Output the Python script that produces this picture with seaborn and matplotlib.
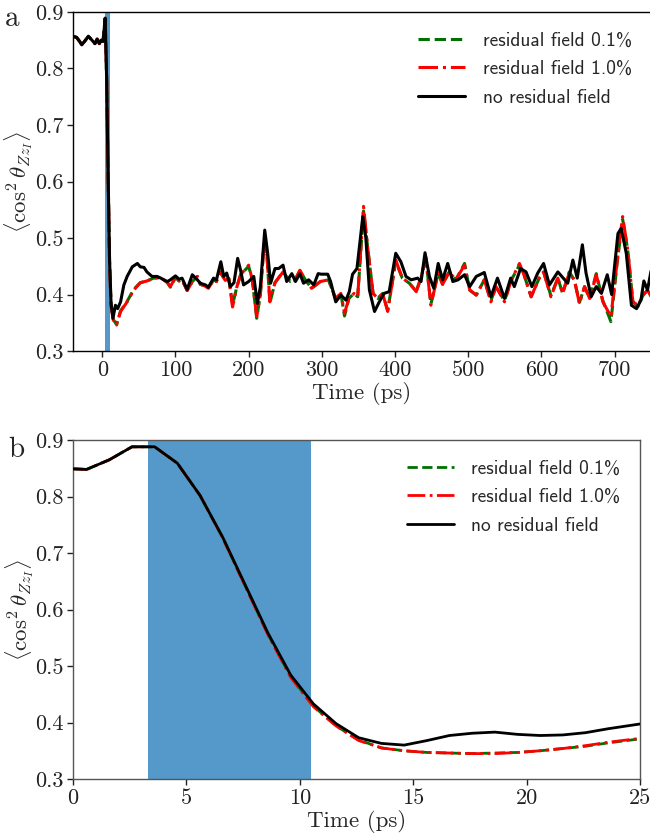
import numpy as np
import pandas as pd
import matplotlib
matplotlib.use("Agg")
import matplotlib.pyplot as plt
import seaborn as sns

# ---------------- data: panel a ----------------
t_a_black = [-40, -35, -31, -28, -23, -19, -14, -10, -7, -4, -1.5, 1, 4, 6, 8, 10, 12, 14.6,
             18, 21, 25, 29.5, 34, 41, 48, 52, 57, 61, 68, 75, 80, 84, 89, 93, 100, 105, 109,
             116, 123, 130, 134, 141, 145, 152, 156, 162, 166, 170, 175, 180, 185, 189, 193,
             200, 207, 212, 216, 222, 226, 230, 236, 241, 247, 252, 259, 264, 270, 275, 282,
             289, 295, 299, 308, 312, 319, 326, 333, 337.5, 342, 348, 356, 360, 365, 372,
             378.5, 385, 392, 401, 408, 415, 422, 431, 435.6, 441, 447, 453, 459, 465, 472,
             479, 486, 495, 502, 511, 522, 531, 540, 549.6, 558, 563, 571.5, 579, 587, 595,
             603, 611, 622.5, 636, 643, 649, 656, 661, 668, 675, 682, 690, 696, 704.6, 709,
             716, 723, 730, 736, 740, 745, 750]
v_a_black = [0.857, 0.855, 0.848, 0.842, 0.850, 0.857, 0.850, 0.844, 0.852, 0.844, 0.850, 0.848,
             0.889, 0.78, 0.61, 0.46, 0.385, 0.358,
             0.381, 0.375, 0.387, 0.417, 0.432, 0.449, 0.455, 0.449, 0.448, 0.440, 0.432, 0.432,
             0.429, 0.426, 0.423, 0.426, 0.433, 0.427, 0.429,
             0.409, 0.435, 0.426, 0.420, 0.417, 0.413, 0.429, 0.426, 0.458, 0.432, 0.438, 0.414,
             0.421, 0.464, 0.443, 0.417,
             0.423, 0.432, 0.384, 0.414, 0.514, 0.473, 0.420, 0.446, 0.446, 0.452, 0.423, 0.437,
             0.423, 0.437, 0.420, 0.426,
             0.417, 0.437, 0.436, 0.436, 0.423, 0.387, 0.399, 0.390, 0.405, 0.436, 0.446, 0.538,
             0.502, 0.408, 0.370,
             0.387, 0.402, 0.405, 0.473, 0.458, 0.432, 0.426, 0.429, 0.423, 0.474, 0.432, 0.411,
             0.455, 0.426, 0.455,
             0.423, 0.426, 0.435, 0.414, 0.432, 0.439, 0.396, 0.429, 0.393, 0.429, 0.414, 0.446,
             0.440, 0.414, 0.438,
             0.455, 0.417, 0.440, 0.420, 0.461, 0.429, 0.488, 0.438, 0.396, 0.414, 0.402, 0.435,
             0.400, 0.508, 0.517,
             0.473, 0.381, 0.375, 0.390, 0.424, 0.408, 0.443]

t_a_res = [-40, -35, -31, -28, -23, -19, -14, -10, -7, -4, -1.5, 1, 4, 6, 8, 10, 12, 15, 19.5,
           25, 34, 43, 52, 61, 70, 80, 89, 93, 100, 105, 109, 116, 123, 130, 134, 141, 145, 152,
           156, 161, 168, 173, 178, 184, 189, 200, 205, 211, 216, 221, 225, 229, 236, 247, 257,
           263, 270, 278, 286, 298, 309, 319, 326, 331, 337, 344, 349, 357, 363, 370, 376.6, 383,
           390, 401, 410, 419.6, 429, 435.6, 442, 449, 459, 465, 474, 483, 495, 502, 511, 522,
           531, 538, 549.6, 559, 570, 577, 586, 597, 603, 613, 622.5, 629, 638, 645, 652, 659,
           666, 675, 684, 695, 703.7, 711, 718, 725, 732, 739, 745, 750]
v_a_res10 = [0.857, 0.855, 0.848, 0.842, 0.850, 0.857, 0.850, 0.844, 0.852, 0.844, 0.850, 0.848,
             0.889, 0.78, 0.61, 0.455, 0.38, 0.355, 0.346,
             0.370, 0.387, 0.408, 0.421, 0.424, 0.429, 0.430, 0.421, 0.414, 0.430, 0.424, 0.426,
             0.407, 0.423, 0.432, 0.418, 0.415, 0.411, 0.426,
             0.423, 0.440, 0.425, 0.428, 0.378, 0.414, 0.435, 0.452, 0.426, 0.361, 0.400, 0.490,
             0.470, 0.387, 0.421, 0.440, 0.423,
             0.425, 0.443, 0.425, 0.411, 0.423, 0.426, 0.393, 0.402, 0.367, 0.393, 0.402, 0.396,
             0.556, 0.479, 0.402, 0.393, 0.402,
             0.370, 0.461, 0.429, 0.420, 0.405, 0.430, 0.464, 0.381, 0.438, 0.418, 0.440, 0.426,
             0.452, 0.408, 0.399, 0.426,
             0.387, 0.414, 0.387, 0.426, 0.455, 0.432, 0.396, 0.429, 0.440, 0.396, 0.429, 0.402,
             0.438, 0.426, 0.384, 0.414,
             0.393, 0.435, 0.387, 0.361, 0.461, 0.538, 0.479, 0.387, 0.381, 0.399, 0.408, 0.396]
v_a_res01 = [0.857, 0.855, 0.848, 0.842, 0.850, 0.857, 0.850, 0.844, 0.852, 0.844, 0.850, 0.848,
             0.889, 0.78, 0.61, 0.455, 0.38, 0.356, 0.347,
             0.371, 0.388, 0.409, 0.421, 0.424, 0.429, 0.430, 0.421, 0.413, 0.430, 0.424, 0.426,
             0.407, 0.423, 0.432, 0.418, 0.415, 0.411, 0.426,
             0.423, 0.441, 0.425, 0.428, 0.382, 0.414, 0.435, 0.450, 0.426, 0.358, 0.400, 0.488,
             0.470, 0.385, 0.421, 0.440, 0.423,
             0.425, 0.442, 0.425, 0.411, 0.423, 0.426, 0.392, 0.402, 0.362, 0.393, 0.402, 0.396,
             0.548, 0.479, 0.402, 0.393, 0.402,
             0.372, 0.458, 0.429, 0.420, 0.406, 0.430, 0.466, 0.383, 0.438, 0.418, 0.440, 0.426,
             0.455, 0.408, 0.399, 0.426,
             0.389, 0.414, 0.389, 0.426, 0.452, 0.432, 0.396, 0.429, 0.440, 0.398, 0.429, 0.402,
             0.440, 0.426, 0.386, 0.414,
             0.393, 0.437, 0.389, 0.352, 0.458, 0.533, 0.479, 0.387, 0.379, 0.399, 0.408, 0.398]

# ---------------- data: panel b ----------------
t_b = [0, 0.6, 1.6, 2.6, 3.6, 4.6, 5.6, 6.6, 7.6, 8.6, 9.6, 10.6, 11.6, 12.6, 13.6, 14.6,
       15.6, 16.6, 17.6, 18.6, 19.6, 20.6, 21.6, 22.6, 23.6, 24.6, 25.6]
v_b_black = [0.849, 0.848, 0.865, 0.888, 0.888, 0.859, 0.802, 0.728, 0.643, 0.558, 0.484,
             0.433, 0.398, 0.373, 0.363, 0.360, 0.368, 0.377, 0.381, 0.383, 0.379, 0.377,
             0.378, 0.382, 0.389, 0.395, 0.401]
v_b_res10 = [0.849, 0.848, 0.865, 0.888, 0.888, 0.859, 0.802, 0.727, 0.641, 0.555, 0.480,
             0.428, 0.394, 0.368, 0.355, 0.350, 0.347, 0.346, 0.345, 0.345, 0.347, 0.350,
             0.354, 0.359, 0.365, 0.370, 0.375]
v_b_res01 = [0.849, 0.848, 0.865, 0.888, 0.888, 0.859, 0.802, 0.727, 0.641, 0.556, 0.481,
             0.429, 0.394, 0.369, 0.355, 0.350, 0.347, 0.346, 0.345, 0.346, 0.347, 0.350,
             0.354, 0.358, 0.364, 0.369, 0.374]

pulse_start, pulse_end = 3.3, 10.5
labels = ["residual field 0.1%", "residual field 1.0%", "no residual field"]
y_ticks = [0.3, 0.4, 0.5, 0.6, 0.7, 0.8, 0.9]
xticks_a = [0, 100, 200, 300, 400, 500, 600, 700]
xticks_b = [0, 5, 10, 15, 20, 25]

# ---------------- style ----------------
sns.set_style("ticks")
plt.rcParams["font.family"] = ["cmr10", "DejaVu Serif"]
plt.rcParams["mathtext.fontset"] = "cm"
plt.rcParams["axes.unicode_minus"] = False
plt.rcParams["axes.formatter.use_mathtext"] = True

fig = plt.figure(figsize=(6.5, 8.38), dpi=100)
ax_a = fig.add_axes([0.1123, 0.5811, 0.8895, 0.4046])
ax_b = fig.add_axes([0.1123, 0.0704, 0.8723, 0.4045])

green = "#007000"
red = "#ff0000"
band = "#5499c9"


def draw(ax, t_res, v01, v10, t_blk, vblk, lw):
    ax.axvspan(pulse_start, pulse_end, color=band, lw=0, zorder=0)
    sns.lineplot(x=t_res, y=v01, ax=ax, color=green, linestyle="--", lw=lw,
                 estimator=None, sort=False, label=labels[0], zorder=2)
    sns.lineplot(x=t_res, y=v10, ax=ax, color=red, linestyle="-.", lw=lw,
                 estimator=None, sort=False, label=labels[1], zorder=3)
    sns.lineplot(x=t_blk, y=vblk, ax=ax, color="black", linestyle="-", lw=lw,
                 estimator=None, sort=False, label=labels[2], zorder=4)
    ax.set_ylim(0.3, 0.9)
    ax.set_yticks(y_ticks)
    ax.set_yticklabels([f"{v:.1f}" for v in y_ticks])
    ax.tick_params(labelsize=16, length=4, width=1, colors="#222222", pad=3)
    ax.set_xlabel("Time (ps)", fontsize=16.5, labelpad=1)
    ax.set_ylabel(r"$\langle\cos^2\theta_{Zz_I}\rangle$", fontsize=16.5)
    ax.yaxis.set_label_coords(-0.066, 0.5)
    leg = ax.legend(loc="upper right", frameon=False, handlelength=2.4,
                    prop={"family": "cmss10", "size": 14}, borderaxespad=0.6,
                    labelspacing=0.55, handletextpad=0.9)
    return leg


draw(ax_a, t_a_res, v_a_res01, v_a_res10, t_a_black, v_a_black, 2.2)
ax_a.set_xlim(-40, 750)
ax_a.set_xticks(xticks_a)
ax_a.set_xticklabels([str(v) for v in xticks_a])
for s in ax_a.spines.values():
    s.set_color("black")
    s.set_linewidth(1.0)
ax_a.spines["right"].set_visible(False)

draw(ax_b, t_b, v_b_res01, v_b_res10, t_b, v_b_black, 2.0)
ax_b.set_xlim(0, 25)
ax_b.set_xticks(xticks_b)
ax_b.set_xticklabels([str(v) for v in xticks_b])
for s in ax_b.spines.values():
    s.set_color("#555555")
    s.set_linewidth(1.0)

fig.text(0.008, 0.977, "a", fontsize=21, ha="left", va="center")
fig.text(0.012, 0.463, "b", fontsize=21, ha="left", va="center")

fig.savefig("out.png", dpi=100)
